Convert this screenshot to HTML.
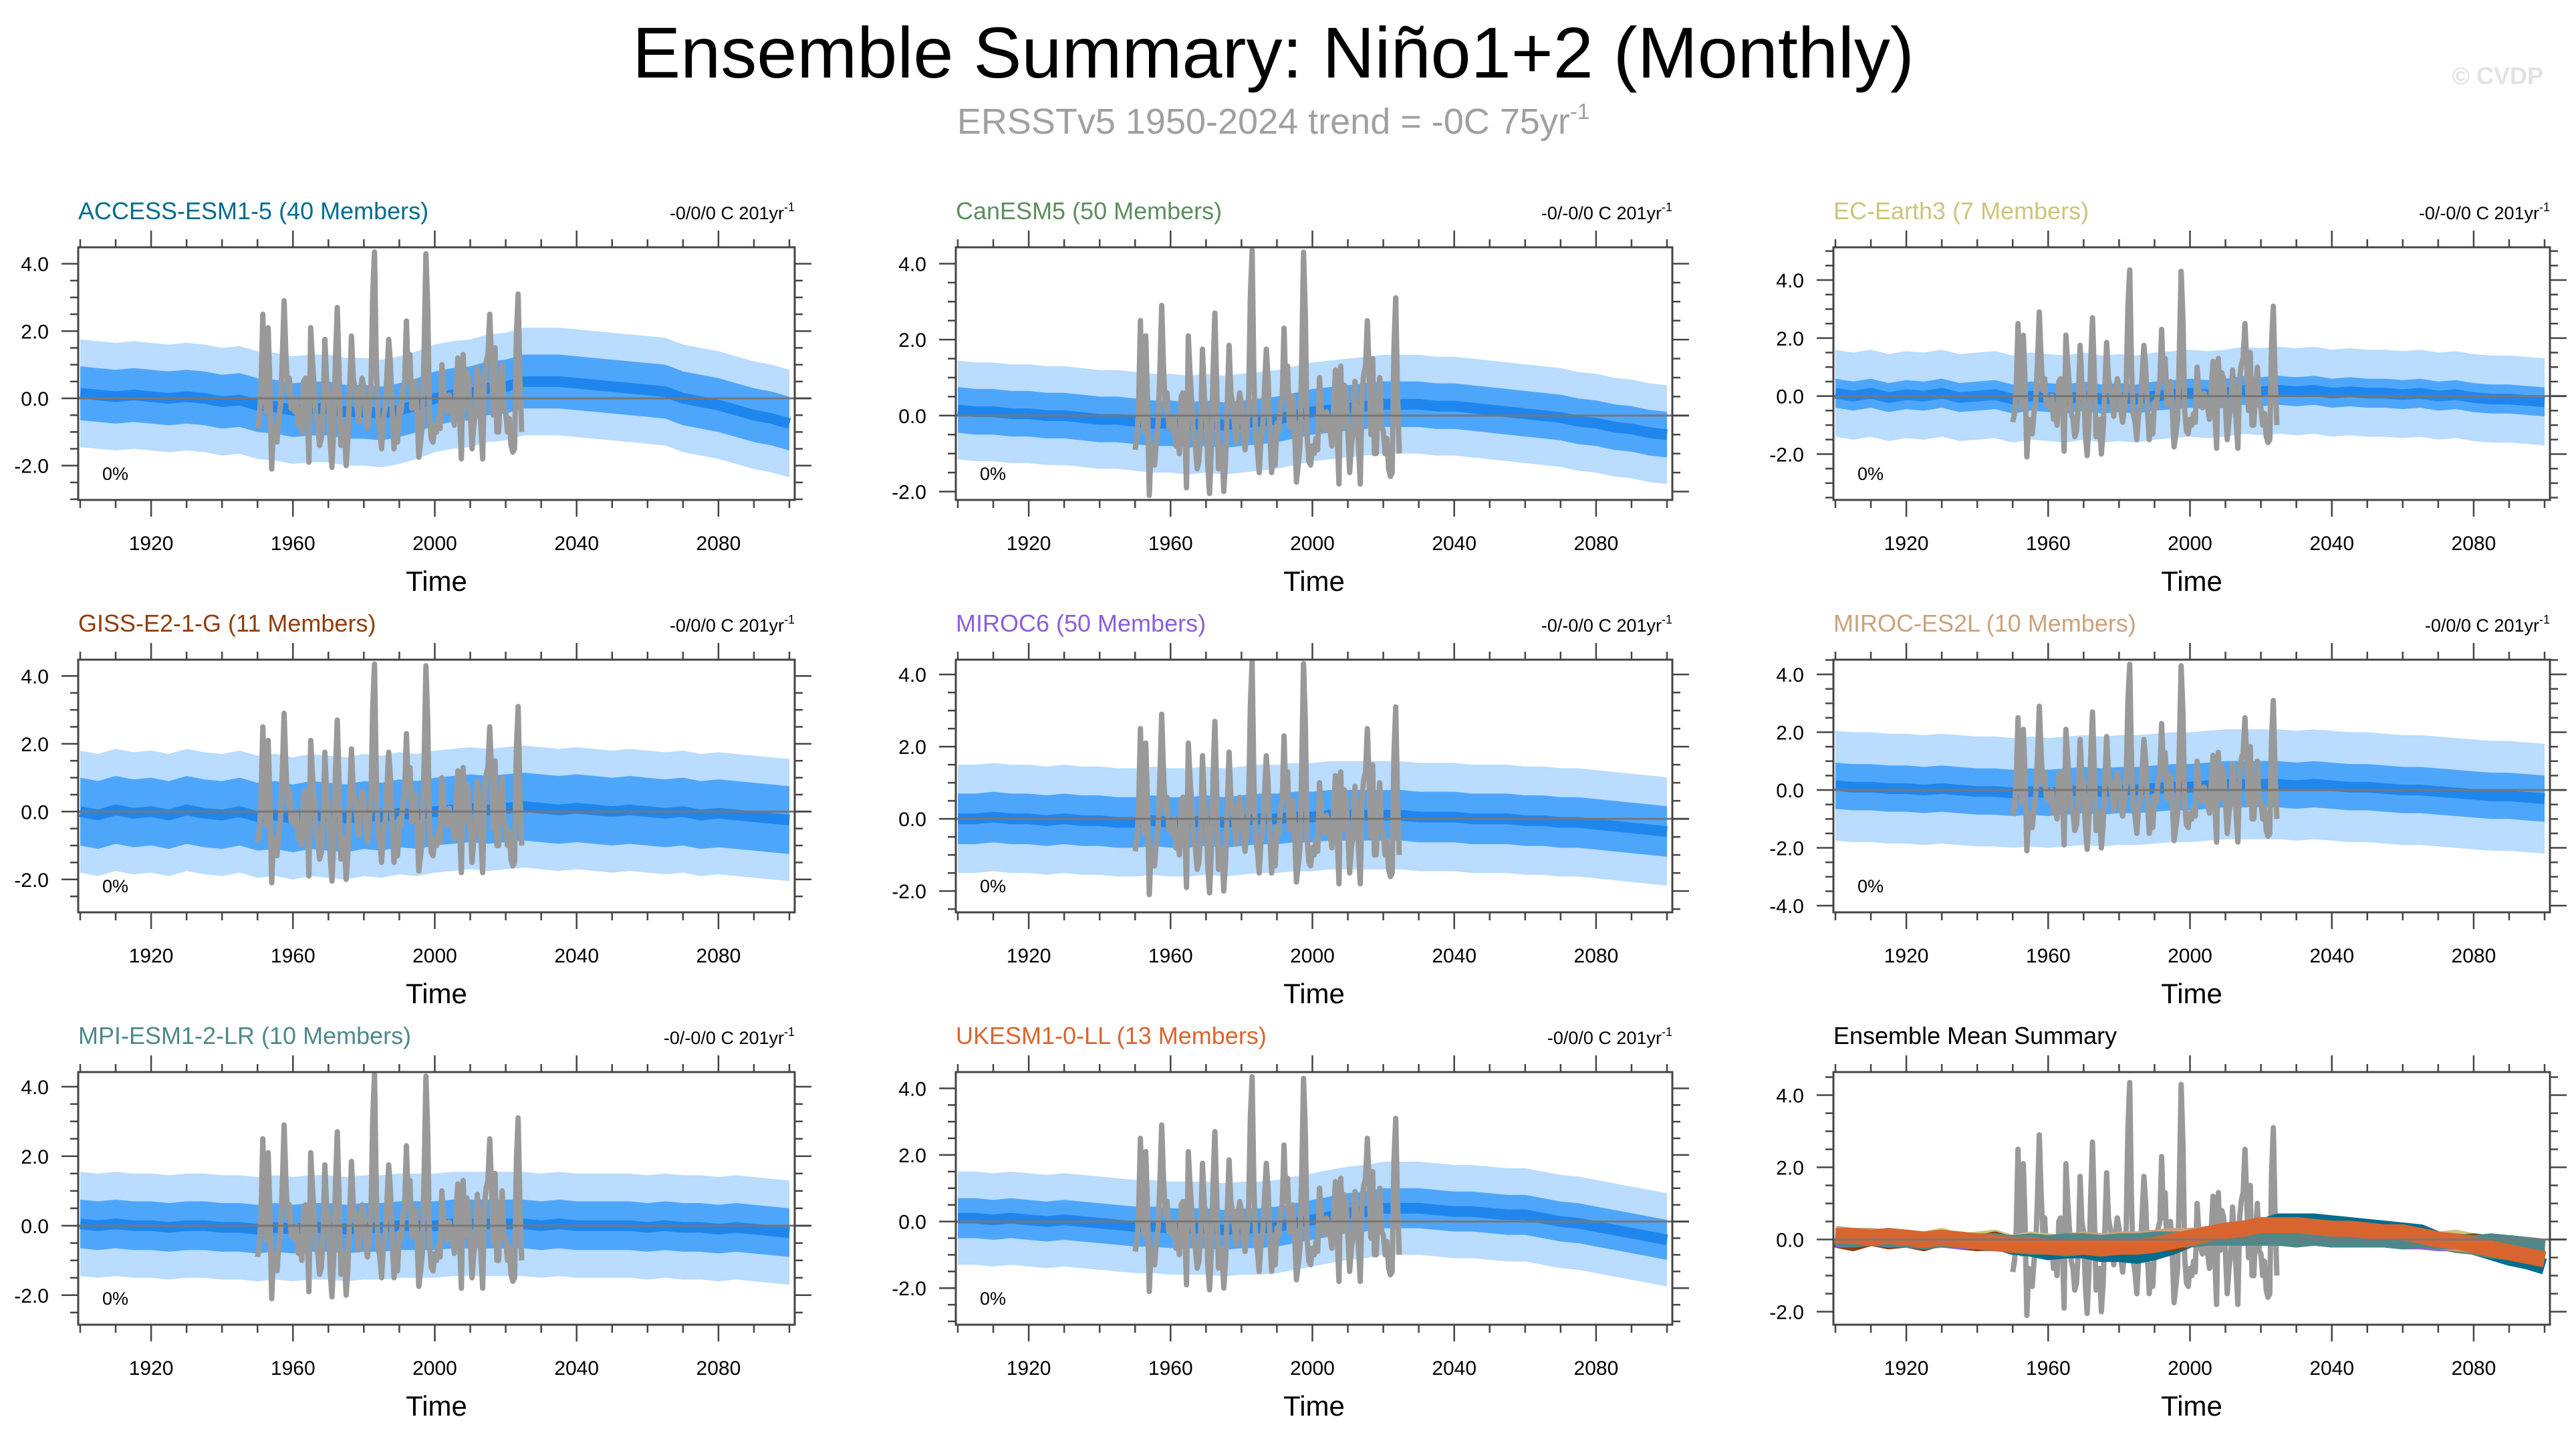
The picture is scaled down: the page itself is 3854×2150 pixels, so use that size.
<!DOCTYPE html>
<html><head><meta charset="utf-8"><style>
html,body{margin:0;padding:0;background:#fff;}
svg{display:block;font-family:"Liberation Sans",sans-serif;}
</style></head><body>
<svg id="chart" width="3854" height="2150" viewBox="0 0 3854 2150" xmlns="http://www.w3.org/2000/svg">
<rect width="3854" height="2150" fill="#fff"/>
<text x="1905" y="116" font-size="108" text-anchor="middle" fill="#000">Ensemble Summary: Niño1+2 (Monthly)</text>
<text x="1905" y="200" font-size="54" text-anchor="middle" fill="#a0a0a0">ERSSTv5 1950-2024 trend = -0C 75yr<tspan font-size="33" dy="-22">-1</tspan></text>
<text x="3805" y="126" font-size="36" font-weight="bold" text-anchor="end" fill="#e2e2e2">© CVDP</text>
<g id="panels"></g>
</svg>
<script>
// ---- data ----
const years5 = [];
for (let y = 1900; y <= 2100; y += 5) years5.push(y);
const obsStart = 1950;
const obsStep = 0.5;
const obsValues = [
-0.9,-0.6, 0.3,2.5, 0.2,-0.4, 2.1,0.4, -2.1,-0.8, -1.0,-1.3, -0.6,-0.2, 1.2,2.9, 1.3,0.2, 0.6,-0.3,
-0.2,-0.4, 0.0,-0.8, -0.5,-1.0, 0.5,0.6, -0.2,-1.9, 2.1,1.1, 0.3,-0.6, -0.8,-1.4, -1.2,-0.3, 1.75,0.5,
0.2,-1.3, -2.05,-0.9, 1.2,2.7, 0.8,-1.4, -1.1,-0.8, -2.0,-1.2, 0.3,1.85, 0.6,0.3, -0.2,-0.7, 0.2,0.6,
0.3,-0.5, -0.9,-0.4, 0.3,3.1, 4.35,1.0, -0.6,-0.9, -1.5,-0.6, -0.3,0.7, 1.75,1.0, -0.4,-1.5, -0.7,-1.3,
-0.2,-0.4, 0.3,0.5, 2.3,0.6, 1.3,-0.3, -0.2,0.5, -0.4,-1.75, -1.3,-0.8, 1.5,4.3, 2.7,-0.5, -1.2,-1.3,
-0.8,-1.0, -0.6,-0.9, 1.0,0.2, -0.2,-0.4, 0.1,-0.2, -0.4,-0.8, 0.3,1.2, -0.5,-1.8, 1.3,-0.3, 0.8,0.6,
-0.4,-1.5, -0.8,-0.4, 0.9,0.1, -0.8,-1.8, 0.6,1.1, 1.3,2.5, 1.1,-0.5, 1.5,-1.0, -1.0,0.2, 1.0,-0.3,
-0.4,-1.0, -0.6,-1.4, -1.6,-1.5, 1.8,3.1, 0.6,-1.0];
const modelNames = ["ACCESS-ESM1-5 (40 Members)","CanESM5 (50 Members)","EC-Earth3 (7 Members)","GISS-E2-1-G (11 Members)","MIROC6 (50 Members)","MIROC-ES2L (10 Members)","MPI-ESM1-2-LR (10 Members)","UKESM1-0-LL (13 Members)"];
const trendLabels = ["-0/0/0 C 201yr","-0/-0/0 C 201yr","-0/-0/0 C 201yr","-0/0/0 C 201yr","-0/-0/0 C 201yr","-0/0/0 C 201yr","-0/-0/0 C 201yr","-0/0/0 C 201yr"];
const meanACCESS = [0.15,0.1,0.05,0.1,0.05,0.0,0.05,0.0,-0.1,-0.05,-0.2,-0.25,-0.35,-0.3,-0.3,-0.4,-0.4,-0.45,-0.35,-0.2,0.0,0.1,0.15,0.3,0.35,0.5,0.5,0.5,0.45,0.4,0.35,0.3,0.25,0.2,0.0,-0.1,-0.2,-0.35,-0.5,-0.6,-0.75];
const meanCanESM5 = [0.15,0.1,0.1,0.05,0.05,0.0,0.0,-0.05,-0.1,-0.1,-0.15,-0.2,-0.2,-0.25,-0.2,-0.25,-0.2,-0.15,-0.1,0.0,0.1,0.15,0.2,0.25,0.3,0.3,0.3,0.25,0.25,0.2,0.15,0.1,0.05,0.0,-0.05,-0.15,-0.2,-0.3,-0.35,-0.45,-0.5];
const meanECEarth3 = [0.1,0.0,0.1,-0.05,0.05,0.0,0.1,-0.05,0.0,0.05,-0.1,0.0,-0.05,-0.1,0.0,-0.1,-0.05,-0.1,0.0,0.05,0.1,0.05,0.1,0.2,0.15,0.2,0.15,0.2,0.1,0.15,0.1,0.1,0.05,0.1,0.0,0.05,-0.05,-0.1,-0.1,-0.15,-0.2];
const meanGISS = [0.0,-0.1,0.05,-0.05,0.0,-0.1,0.05,-0.05,-0.1,0.0,-0.15,-0.1,-0.2,-0.1,-0.15,-0.2,-0.1,-0.15,-0.05,-0.1,0.0,0.05,0.1,0.05,0.1,0.15,0.1,0.05,0.1,0.05,0.0,0.05,0.0,-0.05,0.0,-0.1,-0.05,-0.1,-0.15,-0.2,-0.25];
const meanMIROC6 = [0.0,0.0,0.05,0.0,0.0,-0.05,0.0,-0.05,-0.05,-0.1,-0.1,-0.05,-0.1,-0.1,-0.05,-0.1,-0.05,0.0,0.0,0.05,0.05,0.1,0.1,0.1,0.1,0.1,0.05,0.05,0.05,0.0,0.0,0.0,-0.05,-0.05,-0.1,-0.1,-0.15,-0.2,-0.25,-0.3,-0.35];
const meanMIROCES2L = [0.15,0.1,0.1,0.05,0.05,0.0,0.05,0.0,-0.05,-0.05,-0.1,-0.05,-0.1,-0.05,0.0,-0.05,0.0,0.0,0.05,0.1,0.1,0.15,0.2,0.2,0.2,0.2,0.15,0.2,0.15,0.1,0.1,0.05,0.0,0.0,-0.05,-0.1,-0.15,-0.2,-0.2,-0.25,-0.3];
const meanMPI = [0.05,0.0,0.05,0.0,0.0,-0.05,0.0,0.0,-0.05,-0.05,-0.1,-0.05,-0.1,-0.05,-0.05,-0.1,-0.05,-0.05,0.0,0.0,0.0,0.05,0.05,0.05,0.05,0.05,0.0,0.05,0.0,0.0,0.0,0.0,-0.05,0.0,-0.05,-0.05,-0.1,-0.05,-0.1,-0.15,-0.2];
const meanUKESM = [0.1,0.1,0.05,0.1,0.05,0.0,0.05,0.0,-0.05,-0.1,-0.15,-0.15,-0.2,-0.2,-0.2,-0.25,-0.2,-0.2,-0.15,-0.05,0.05,0.15,0.25,0.3,0.4,0.4,0.4,0.35,0.3,0.3,0.25,0.2,0.2,0.1,0.0,-0.05,-0.15,-0.25,-0.35,-0.45,-0.55];
const innerSpread = [0.8,0.6,0.5,1.0,0.7,0.8,0.7,0.6];
const outerSpread = [1.6,1.3,1.5,1.8,1.5,1.9,1.5,1.4];
const modelMeans = [meanACCESS,meanCanESM5,meanECEarth3,meanGISS,meanMIROC6,meanMIROCES2L,meanMPI,meanUKESM];
const modelColors = ["#006c8e","#5c8d5e","#cdc47a","#8e3e0c","#8b5fd6","#cba27c","#4e898a","#d8652f"];
const yRanges = [[-3.02,4.49],[-2.22,4.43],[-3.58,5.13],[-2.97,4.48],[-2.59,4.41],[-4.23,4.51],[-2.85,4.42],[-3.1,4.49],[-2.36,4.64]];
const yTickVals = [[-2,0,2,4],[-2,0,2,4],[-2,0,2,4],[-2,0,2,4],[-2,0,2,4],[-4,-2,0,2,4],[-2,0,2,4],[-2,0,2,4],[-2,0,2,4]];
const xTickVals = [1920,1960,2000,2040,2080];

// ---- layout ----
const colX = [117,1430,2743], rowY = [370,987,1604], W = 1072, H = 378;
const NS = "http://www.w3.org/2000/svg";
const root = document.getElementById('panels');
function mk(tag, attrs, parent){ const e=document.createElementNS(NS,tag); for(const k in attrs) e.setAttribute(k,attrs[k]); (parent||root).appendChild(e); return e; }

for (let p = 0; p < 9; p++) {
  const L = colX[p%3], T = rowY[Math.floor(p/3)];
  const [ymin,ymax] = yRanges[p];
  const xs = yr => L + 3 + (yr-1900)*((W-11)/200);
  const ys = v => T + H - (v-ymin)/(ymax-ymin)*H;
  const g = mk('g',{});
  
  
  const clipId = 'clip'+p;
  const cp = mk('clipPath',{id:clipId},g); mk('rect',{x:L,y:T,width:W,height:H},cp);
  const plot = mk('g',{'clip-path':'url(#'+clipId+')'},g);
  if (p < 8) {
    const m = modelMeans[p];
    const band = (s, color, name) => {
      let d = 'M';
      years5.forEach((y,i)=>{ d += xs(y)+','+ys(m[i]+s)+' L'; });
      for (let i=years5.length-1;i>=0;i--) d += xs(years5[i])+','+ys(m[i]-s)+(i>0?' L':' Z');
      const b = mk('path',{d:d,fill:color},plot);
      
      
    };
    band(outerSpread[p],'#b9dcff','ensemble-outer-spread');
    band(innerSpread[p],'#4ea6fb','ensemble-inner-spread');
    const ml = mk('polyline',{points:years5.map((y,i)=>xs(y)+','+ys(m[i])).join(' '),fill:'none',stroke:'#1f86ee','stroke-width':16,'stroke-linejoin':'round'},plot);
    
    
  }
  const zl = mk('line',{x1:L,x2:L+W+25,y1:ys(0),y2:ys(0),stroke:'#777','stroke-width':3},g);
  
  
  const obs = mk('polyline',{points:obsValues.map((v,i)=>xs(obsStart+i*obsStep)+','+ys(v)).join(' '),fill:'none',stroke:'#999','stroke-width':8,'stroke-linejoin':'round'},plot);
  
  
  if (p === 8) {
    modelMeans.forEach((m,k)=>{
      const l = mk('polyline',{points:years5.map((y,i)=>xs(y)+','+ys(m[i])).join(' '),fill:'none',stroke:modelColors[k],'stroke-width':24,'stroke-linejoin':'round'},plot);
      
      
    });
  }
  const fr = mk('rect',{x:L,y:T,width:W,height:H,fill:'none',stroke:'#444','stroke-width':3},g);
  
  
  for (let y=1900;y<=2100;y+=10){
    const major = xTickVals.includes(y); const len = major?25:12; const x = xs(y);
    mk('line',{x1:x,x2:x,y1:T,y2:T-len,stroke:'#444','stroke-width':2.5},g);
    mk('line',{x1:x,x2:x,y1:T+H,y2:T+H+len,stroke:'#444','stroke-width':2.5},g);
  }
  xTickVals.forEach(y=>{
    const t = mk('text',{x:xs(y),y:T+H+75,'font-size':30,'text-anchor':'middle',fill:'#000'},g);
    t.textContent = y;
    
    
  });
  const step = 0.5;
  for (let v=Math.ceil(ymin/step)*step; v<=ymax; v+=step){
    const major = yTickVals[p].some(t=>Math.abs(t-v)<1e-6); const len = major?25:12; const y = ys(v);
    mk('line',{x1:L,x2:L-len,y1:y,y2:y,stroke:'#444','stroke-width':2.5},g);
    mk('line',{x1:L+W,x2:L+W+len,y1:y,y2:y,stroke:'#444','stroke-width':2.5},g);
  }
  yTickVals[p].forEach(v=>{
    const t = mk('text',{x:L-44,y:ys(v)+11,'font-size':30,'text-anchor':'end',fill:'#000'},g);
    t.textContent = v.toFixed(1);
    
    
  });
  const xt = mk('text',{x:L+W/2,y:T+H+136,'font-size':42,'text-anchor':'middle',fill:'#000'},g);
  xt.textContent = 'Time';
  
  
  const ti = mk('text',{x:L,y:T-42,'font-size':36,fill:p<8?modelColors[p]:'#000'},g);
  ti.textContent = p<8 ? modelNames[p] : 'Ensemble Mean Summary';
  
  
  if (p < 8) {
    const tr = mk('text',{x:L+W,y:T-42,'font-size':27,'text-anchor':'end',fill:'#000'},g);
    tr.textContent = trendLabels[p];
    const sup = mk('tspan',{'font-size':18,dy:-12},tr); sup.textContent='-1';
    
    
    const pc = mk('text',{x:L+36,y:T+H-30,'font-size':27,fill:'#000'},g);
    pc.textContent = '0%';
    
    
  }
}
</script>
</body></html>
